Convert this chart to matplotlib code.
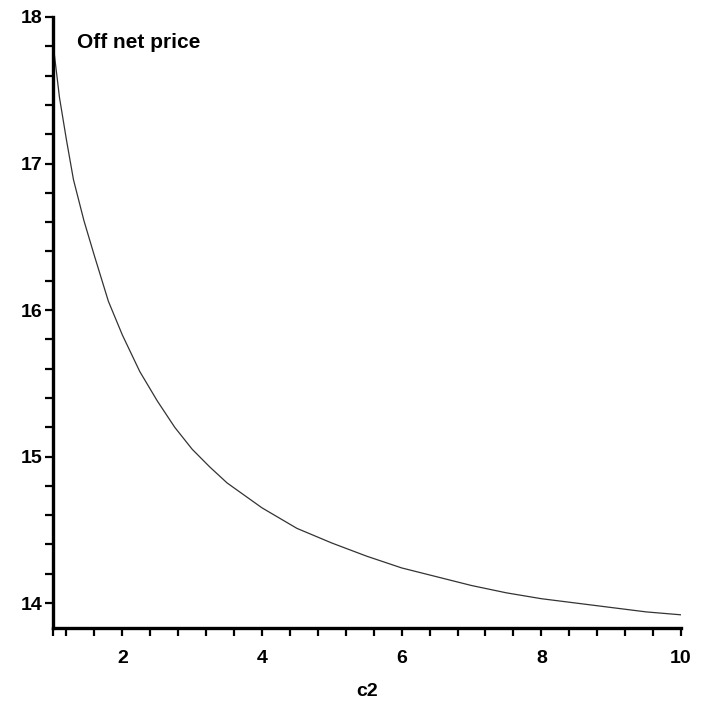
import matplotlib
matplotlib.use("Agg")
import matplotlib.pyplot as plt
from matplotlib.ticker import FixedLocator

# values
c2 = [1.0, 1.1, 1.2, 1.3, 1.45, 1.6, 1.8, 2.0, 2.25, 2.5, 2.75, 3.0, 3.25, 3.5,
      4.0, 4.5, 5.0, 5.5, 6.0, 6.5, 7.0, 7.5, 8.0, 8.5, 9.0, 9.5, 10.0]
price = [17.85, 17.45, 17.16, 16.89, 16.61, 16.37, 16.06, 15.83, 15.58, 15.38, 15.20, 15.05, 14.93, 14.82,
         14.65, 14.51, 14.41, 14.32, 14.24, 14.18, 14.12, 14.07, 14.03, 14.00, 13.97, 13.94, 13.92]

x_major = [2, 4, 6, 8, 10]
y_major = [14, 15, 16, 17, 18]
x_minor = [1.0] + [round(1.2 + 0.4 * i, 1) for i in range(23)]
y_minor = [round(14.2 + 0.2 * i, 1) for i in range(19)]

plt.rcParams['font.family'] = ['Liberation Sans', 'DejaVu Sans']

fig = plt.figure(figsize=(7.02, 7.02), dpi=100)
ax = fig.add_axes([0.0748, 0.1054, 0.8953, 0.8704])

ax.plot(c2, price, color='#333333', lw=0.9)

ax.set_xlim(1, 10)
ax.set_ylim(13.83, 18.0)

ax.xaxis.set_major_locator(FixedLocator(x_major))
ax.yaxis.set_major_locator(FixedLocator(y_major))
ax.xaxis.set_minor_locator(FixedLocator([v for v in x_minor if v not in x_major]))
ax.yaxis.set_minor_locator(FixedLocator([v for v in y_minor if v not in y_major]))
ax.set_xticklabels([str(v) for v in x_major], fontweight='bold')
ax.set_yticklabels([str(v) for v in y_major], fontweight='bold')

for s in ['top', 'right']:
    ax.spines[s].set_visible(False)
for s in ['left', 'bottom']:
    ax.spines[s].set_linewidth(2.4)
    ax.spines[s].set_color('black')

ax.tick_params(which='both', direction='out', length=6, width=1.6, color='black')
ax.tick_params(axis='x', which='major', pad=10, labelsize=14)
ax.tick_params(axis='y', which='major', pad=1, labelsize=14)

fig.text(77 / 702, 1 - 48 / 702, "Off net price", fontsize=15, fontweight='bold', va='baseline', ha='left')
fig.text(367 / 702, 1 - 692 / 702, "c2", fontsize=14, fontweight='bold', va='center', ha='center')

fig.savefig("out.png", dpi=100, facecolor='white')
